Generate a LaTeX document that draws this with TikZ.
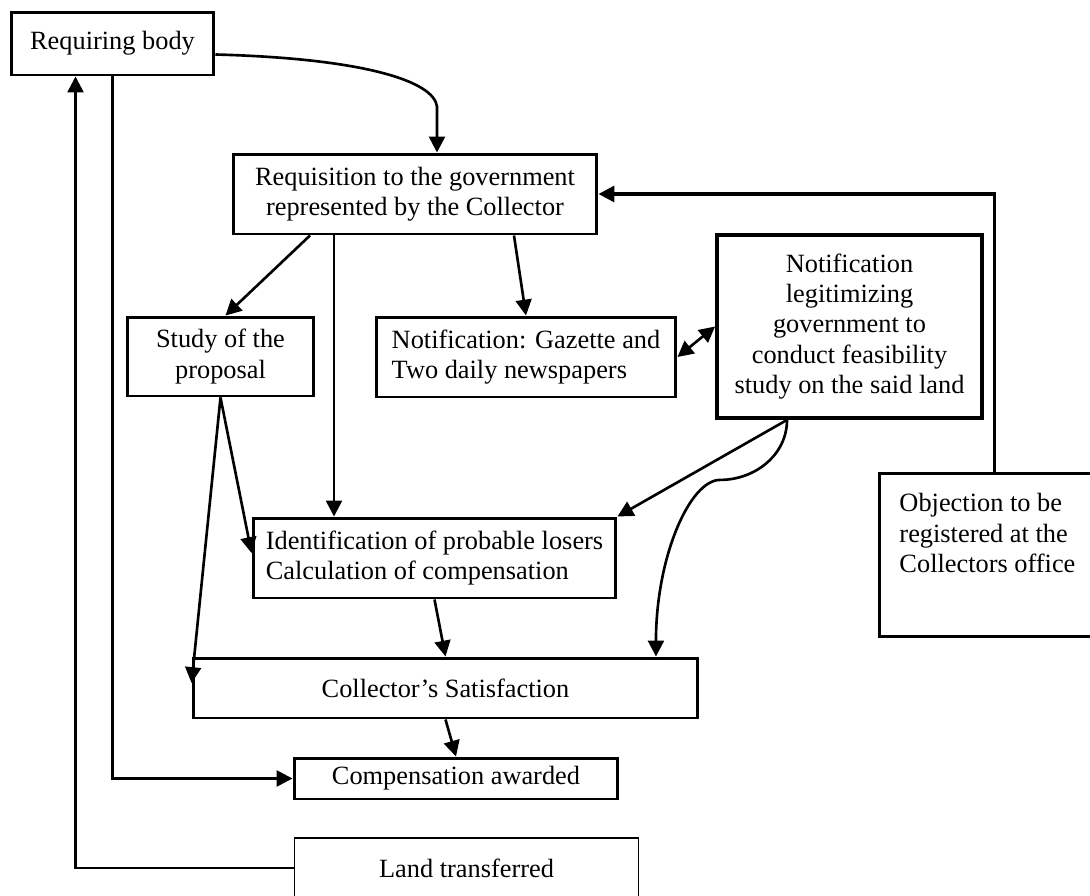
\documentclass[tikz,border=0pt]{standalone}
\usepackage{fontspec}
\setmainfont{Liberation Serif}
\usetikzlibrary{arrows.meta}

\begin{document}
\begin{tikzpicture}
		[   x=0.02cm, y=-0.02cm,
		    font=\fontsize{15}{17.3}\selectfont,
		    box/.style={draw=black,line width=1.7pt,inner sep=0pt,minimum width=#1},
		]
		\tikzset{normal arrow/.style={draw,line width=1.5pt,-{Triangle[length=9pt,width=9pt]}}}
		\tikzset{both arrow/.style={draw,line width=1.5pt,{Triangle[length=9pt,width=9pt]}-{Triangle[length=9pt,width=9pt]}}}
		\useasboundingbox (0,0) rectangle (1090,896);
		
		\node[box=4.06cm,minimum height=1.26cm,align=left] (rb) at (112.5,43.5) {Requiring body};
		
		\node[box=7.28cm,minimum height=1.6cm,align=center] (req) at (415,194) {Requisition to the government\\represented by the Collector};
		
		\node[box=3.74cm,minimum height=1.58cm,align=center] (study) at (220.5,356.5) {Study of the\\proposal};
		\node[box=6cm,minimum height=1.6cm,align=left] (note-1) at (526,357) {Notification: Gazette and\\Two daily newspapers};
		\node[box=5.3cm,minimum height=3.66cm,align=center,line width=2.2pt] (note-2) at (849.5,326.5) {Notification\\legitimizing\\government to\\conduct feasibility\\study on the said land};
		
		\node[box=4.6cm,inner xsep=0.4cm,inner ysep=0.4cm,anchor=north west] (obj) at (878,472) {\parbox[t][2.46cm][t]{3.8cm}{Objection to be\\registered at the\\Collectors office}};
		
		\node[box=7.26cm,minimum height=1.6cm,align=left] (ident) at (434.5,558) {Identification of probable losers\\Calculation of compensation};
		
		\node[box=10.1cm,minimum height=1.2cm] (cs) at (445.5,688) {Collector’s Satisfaction};
		\node[box=6.48cm,minimum height=0.82cm] (ca) at (456,778.5) {Compensation awarded};
		\node[box=6.9cm,minimum height=1.2cm,line width=0.6pt] (lt) at (466.5,868) {Land transferred};
		
		
		\path[normal arrow] ([yshift=-0.22cm]rb.east) .. controls +(150,4) and +(-3,-25) .. ([xshift=0.44cm,yshift=0.92cm]req.north) -- ([xshift=0.44cm]req.north);
		\path[normal arrow] (rb.south) |- (ca.west);
		\path[normal arrow] (lt.west) -| ([xshift=-0.74cm]rb.south);
		\path[normal arrow,line width=1.8pt] (obj.north) |- (req.east);
		
		\path[normal arrow] ([xshift=-2.1cm]req.south) -- ([xshift=0.1cm]study.north);
		\path[normal arrow] ([xshift=-1.62cm]req.south) -- ([xshift=-1.62cm]req.south |- ident.north);
		\path[normal arrow] ([xshift=1.98cm]req.south) -- (note-1.north);
		\path[both arrow] (note-1.east) -- (note-2.west);
		
		\path[normal arrow] ([xshift=-1.25cm]note-2.south) -- (ident.north east);
		\path[normal arrow] ([xshift=-1.25cm]note-2.south) .. controls +(0,35) and +(35,0) .. ++(-67,60)
			.. controls +(-30,0) and +(0,-100) .. ([xshift=4.21cm]cs.north);
		
		\path[normal arrow] (study.south) -- ([yshift=0.1cm]ident.west);
		\path[normal arrow] (study.south) -- ([yshift=0.1cm]cs.west);
		\path[normal arrow] (ident.south) -- (cs.north);
		\path[normal arrow] (cs.south) -- (ca.north);
		\end{tikzpicture}
\end{document}
